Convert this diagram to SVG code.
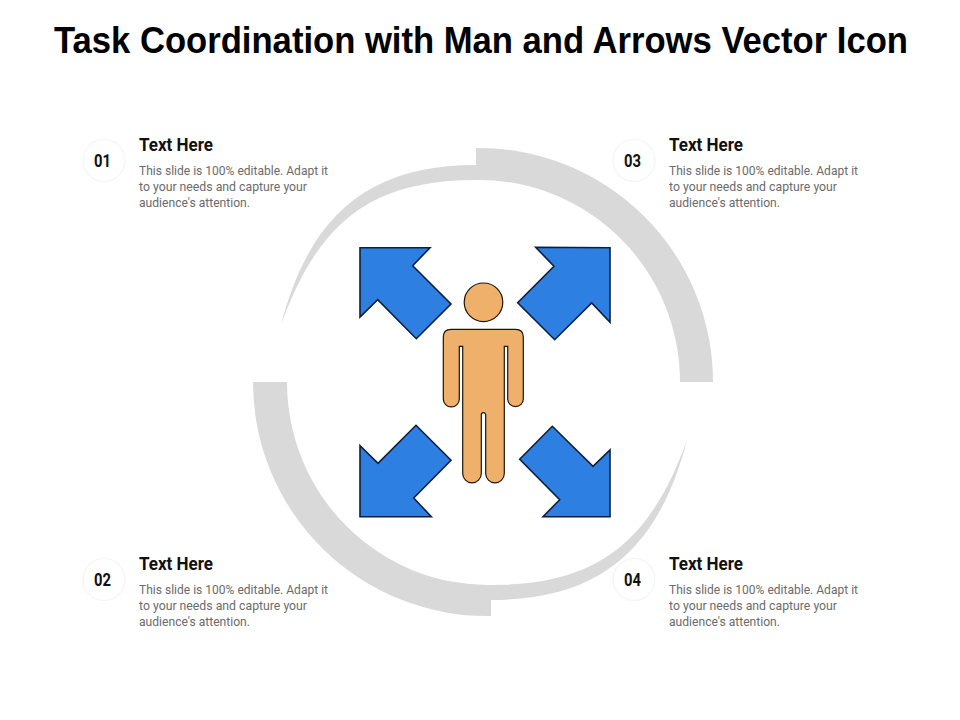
<svg xmlns="http://www.w3.org/2000/svg" width="960" height="720" viewBox="0 0 960 720">
<style>
.title{font:bold 36px "Liberation Sans",Arial,sans-serif;fill:#000}
.head{font:bold 18.5px Roboto,"Liberation Sans",sans-serif;fill:#111}
.body{font:13px Roboto,"Liberation Sans",sans-serif;fill:#6b6b6b}
.num{font:bold 18.5px Roboto,"Liberation Sans",sans-serif;fill:#111;text-anchor:middle}
.badge{fill:#fff;stroke:#f4f4f4;stroke-width:1.2}
.ring{fill:#d9d9d9}
.arrow{fill:#2e7fe2;stroke:#0b1f3f;stroke-width:1.6;stroke-linejoin:miter}
.man{fill:#eeb06b;stroke:#1e1408;stroke-width:1.2}
</style>
<rect width="960" height="720" fill="#fff"/>
<text class="title" x="54" y="53" textLength="854" lengthAdjust="spacingAndGlyphs">Task Coordination with Man and Arrows Vector Icon</text>
<g id="ring">
<path class="ring" d="M476,148 A234,234 0 0 1 713,382 H680 A201,202 0 0 0 476,180 C371,180 318,222 281,325 C310,212 372,165 476,165 Z"/>
<path class="ring" d="M491,616 A234,234 0 0 1 253,382 H287 A201,203 0 0 0 491,585 C597,585 650,543 687,440 C658,553 596,600 491,600 Z"/>
</g>
<g id="arrow-tl"><polygon class="arrow" points="360,247.7 430,247.7 412.7,265.7 451,304 416.3,338.7 377.7,299.7 360,317"/></g>
<g id="arrow-tr"><polygon class="arrow" points="535.7,247.3 610,247.7 610,322.3 591.7,303 554.7,339.7 517.7,302.7 554,266.3"/></g>
<g id="arrow-bl"><polygon class="arrow" points="360,516.7 360,445.7 378,463.3 416,425.3 451,460.3 413.7,498 431.3,516.7"/></g>
<g id="arrow-br"><polygon class="arrow" points="610,516.7 610,450 593,466.3 552.3,426.3 519.7,459.3 559.7,499.7 543,516.7"/></g>
<g id="man">
<circle class="man" cx="483.5" cy="302.3" r="19.3"/>
<path class="man" d="M451,329.3 H515.5 Q523.3,329.3 523.3,337 V398.9 A7.8,7.8 0 0 1 507.7,398.9 V346.3 H504.3 V473.5 A9.3,9.3 0 0 1 485.7,473.5 V414.9 A2.2,2.2 0 0 0 481.3,414.9 V473.5 A9.3,9.3 0 0 1 462.7,473.5 V346.3 H459.3 V398.9 A8,8 0 0 1 443.3,398.9 V337 Q443.3,329.3 451,329.3 Z"/>
</g>
<g id="item-01">
<circle class="badge" cx="104" cy="160.5" r="21"/>
<text class="num" x="102.5" y="167" textLength="17" lengthAdjust="spacingAndGlyphs">01</text>
<text class="head" x="139" y="151" textLength="74" lengthAdjust="spacingAndGlyphs">Text Here</text>
<text class="body" x="139" y="175" textLength="189" lengthAdjust="spacingAndGlyphs">This slide is 100% editable. Adapt it</text>
<text class="body" x="139" y="191" textLength="168" lengthAdjust="spacingAndGlyphs">to your needs and capture your</text>
<text class="body" x="139" y="207" textLength="111" lengthAdjust="spacingAndGlyphs">audience's attention.</text>
</g>
<g id="item-02">
<circle class="badge" cx="104" cy="579.5" r="21"/>
<text class="num" x="102.5" y="586" textLength="17" lengthAdjust="spacingAndGlyphs">02</text>
<text class="head" x="139" y="570" textLength="74" lengthAdjust="spacingAndGlyphs">Text Here</text>
<text class="body" x="139" y="594" textLength="189" lengthAdjust="spacingAndGlyphs">This slide is 100% editable. Adapt it</text>
<text class="body" x="139" y="610" textLength="168" lengthAdjust="spacingAndGlyphs">to your needs and capture your</text>
<text class="body" x="139" y="626" textLength="111" lengthAdjust="spacingAndGlyphs">audience's attention.</text>
</g>
<g id="item-03">
<circle class="badge" cx="634" cy="160.5" r="21"/>
<text class="num" x="632.5" y="167" textLength="17" lengthAdjust="spacingAndGlyphs">03</text>
<text class="head" x="669" y="151" textLength="74" lengthAdjust="spacingAndGlyphs">Text Here</text>
<text class="body" x="669" y="175" textLength="189" lengthAdjust="spacingAndGlyphs">This slide is 100% editable. Adapt it</text>
<text class="body" x="669" y="191" textLength="168" lengthAdjust="spacingAndGlyphs">to your needs and capture your</text>
<text class="body" x="669" y="207" textLength="111" lengthAdjust="spacingAndGlyphs">audience's attention.</text>
</g>
<g id="item-04">
<circle class="badge" cx="634" cy="579.5" r="21"/>
<text class="num" x="632.5" y="586" textLength="17" lengthAdjust="spacingAndGlyphs">04</text>
<text class="head" x="669" y="570" textLength="74" lengthAdjust="spacingAndGlyphs">Text Here</text>
<text class="body" x="669" y="594" textLength="189" lengthAdjust="spacingAndGlyphs">This slide is 100% editable. Adapt it</text>
<text class="body" x="669" y="610" textLength="168" lengthAdjust="spacingAndGlyphs">to your needs and capture your</text>
<text class="body" x="669" y="626" textLength="111" lengthAdjust="spacingAndGlyphs">audience's attention.</text>
</g>
</svg>
